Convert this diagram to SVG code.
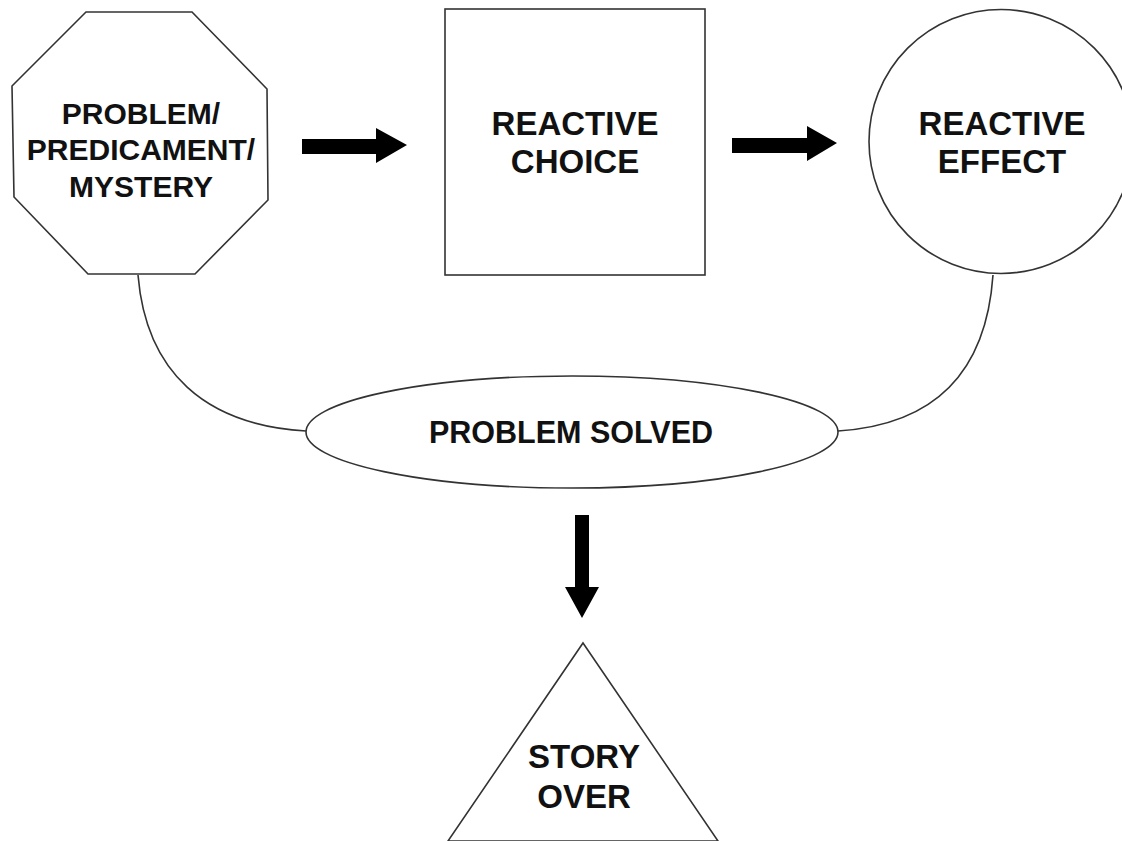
<svg xmlns="http://www.w3.org/2000/svg" width="1122" height="841" viewBox="0 0 1122 841">
  <style>
    .shape { fill: #ffffff; stroke: #333333; stroke-width: 1.6; }
    .link { fill: none; stroke: #333333; stroke-width: 1.6; }
    .arrow { fill: #000000; stroke: none; }
    .label { font-family: "Liberation Sans", Arial, Helvetica, sans-serif; font-weight: bold; fill: #111111; text-anchor: middle; }
  </style>
  <rect x="0" y="0" width="1122" height="841" fill="#ffffff"/>

  <!-- connectors: curved links and block arrows -->
  <g id="connectors">
    <path class="link" d="M138,275 C146,372 205,425 306,431"/>
    <path class="link" d="M993,275 C986,375 932,425 838,431"/>
    <polygon class="arrow" points="302,139 376,139 376,128 407,145 376,163 376,154 302,154"/>
    <polygon class="arrow" points="732,138 807,138 807,126 837,143 807,161 807,153 732,153"/>
    <polygon class="arrow" points="575,515 589,515 589,587 599,587 582,618 565,587 575,587"/>
  </g>

  <!-- problem (octagon) -->
  <g id="problem">
    <polygon class="shape" points="86,12 192,12 267,89 268,200 195,274 88,274 14,197 12,86"/>
    <text class="label" font-size="30" x="141" y="124">PROBLEM/</text>
    <text class="label" font-size="30" x="141" y="160">PREDICAMENT/</text>
    <text class="label" font-size="30" x="141" y="197">MYSTERY</text>
  </g>

  <!-- reactive choice (square) -->
  <g id="reactive-choice">
    <rect class="shape" x="445" y="9" width="260" height="266"/>
    <text class="label" font-size="33" x="575" y="135">REACTIVE</text>
    <text class="label" font-size="33" x="575" y="173">CHOICE</text>
  </g>

  <!-- reactive effect (circle) -->
  <g id="reactive-effect">
    <circle class="shape" cx="1001" cy="141.5" r="132"/>
    <text class="label" font-size="33" x="1002" y="135">REACTIVE</text>
    <text class="label" font-size="33" x="1002" y="173">EFFECT</text>
  </g>

  <!-- problem solved (ellipse) -->
  <g id="problem-solved">
    <ellipse class="shape" cx="572" cy="432" rx="266" ry="56"/>
    <text class="label" font-size="30.5" x="571" y="443">PROBLEM SOLVED</text>
  </g>

  <!-- story over (triangle) -->
  <g id="story-over">
    <polygon class="shape" points="583,643 718,841 448,841"/>
    <text class="label" font-size="33" x="584" y="768">STORY</text>
    <text class="label" font-size="33" x="584" y="808">OVER</text>
  </g>
</svg>
